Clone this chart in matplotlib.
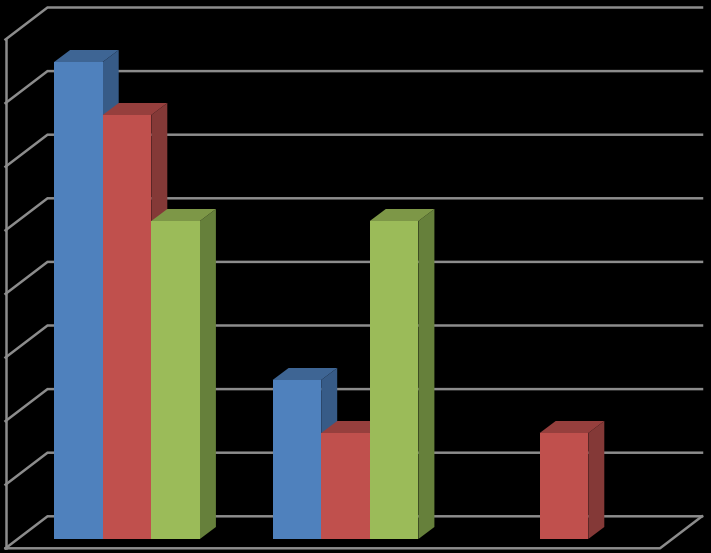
import numpy as np
import matplotlib
matplotlib.use("Agg")
import matplotlib.pyplot as plt
from matplotlib.patches import Polygon

# values
categories = [0, 1, 2]
blue_vals = [9, 3, 0]
red_vals = [8, 2, 2]
green_vals = [6, 6, 0]
grid_levels = [0, 1.2, 2.4, 3.6, 4.8, 6.0, 7.2, 8.4, 9.6]

W, H = 711, 553
BAR_W = 48.6 / 218.5
# depth of the bars and of the box, in data units
BAR_DX, BAR_DY = 16 / 218.5, 12 / 53
BOX_DX, BOX_DY = 42 / 218.5, 32 / 53

fig = plt.figure(figsize=(W / 100, H / 100), dpi=100, facecolor="black")
ax = fig.add_axes([0, 0, 1, 1])
ax.set_facecolor("black")
ax.set_xlim(-127 / 218.5, (W - 127) / 218.5)
ax.set_ylim(-14 / 53, 539 / 53)
ax.axis("off")

# walls: front edge ticks + back grid lines
wall = "#8C8C8C"
lw = 1.8
x0, x1 = (5.5 - 127) / 218.5, (660 - 127) / 218.5
y0 = -9.3 / 53
for lv in grid_levels:
    y = y0 + lv
    ax.plot([x0, x0 + BOX_DX, x1 + BOX_DX], [y, y + BOX_DY, y + BOX_DY],
            color=wall, lw=lw, solid_joinstyle="miter", zorder=1)
ax.plot([x0, x0], [y0, y0 + grid_levels[-1]], color=wall, lw=lw, zorder=1)
ax.plot([x0, x1, x1 + BOX_DX], [y0, y0, y0 + BOX_DY], color=wall, lw=lw, zorder=1)

series = [
    (blue_vals, -BAR_W, "#4F81BD", "#3E6594", "#375B87"),
    (red_vals, 0, "#C0504D", "#963F3D", "#843937"),
    (green_vals, BAR_W, "#9BBB59", "#7D9747", "#66803B"),
]

z = 2
for vals, off, front, top, side in series:
    for c, v in zip(categories, vals):
        if v == 0:
            continue
        xc = c + off
        l, r = xc - BAR_W / 2, xc + BAR_W / 2
        ax.add_patch(Polygon([(r, 0), (r + BAR_DX, BAR_DY), (r + BAR_DX, v + BAR_DY), (r, v)],
                             facecolor=side, edgecolor="none", zorder=z))
        ax.add_patch(Polygon([(l, v), (l + BAR_DX, v + BAR_DY), (r + BAR_DX, v + BAR_DY), (r, v)],
                             facecolor=top, edgecolor="none", zorder=z))
        ax.bar(xc, v, BAR_W, color=front, linewidth=0, zorder=z + 0.5)
    z += 1

fig.savefig("out.png", dpi=100, facecolor="black")
